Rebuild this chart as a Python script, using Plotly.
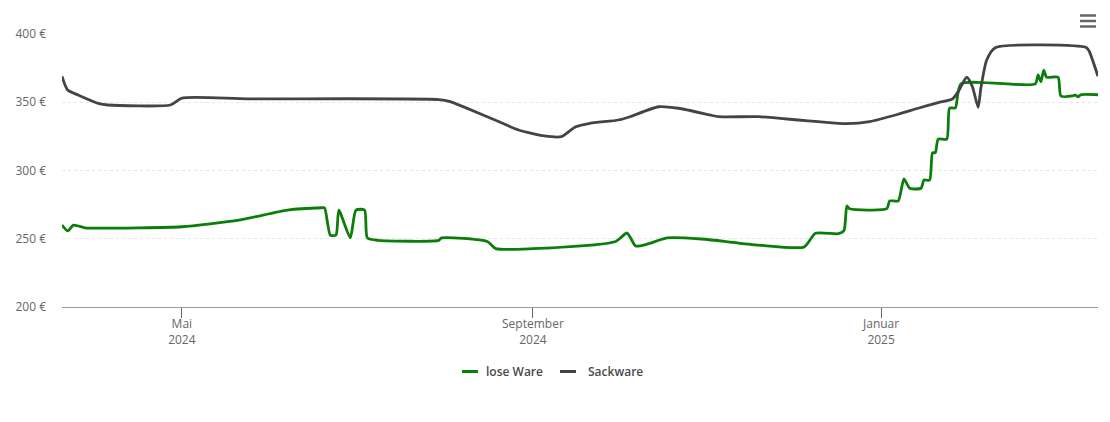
import plotly.graph_objects as go

# ---- data ----
lose_dates = [
    "2024-03-20", "2024-03-22", "2024-03-24", "2024-03-27", "2024-03-28", "2024-04-16",
    "2024-05-01", "2024-05-21", "2024-06-07", "2024-06-19", "2024-06-20", "2024-06-22",
    "2024-06-24", "2024-06-25", "2024-06-29", "2024-07-01", "2024-07-04", "2024-07-05",
    "2024-07-09", "2024-07-30", "2024-07-31", "2024-08-16", "2024-08-19", "2024-09-06",
    "2024-09-30", "2024-10-04", "2024-10-07", "2024-10-11", "2024-10-18", "2024-10-30",
    "2024-11-19", "2024-12-05", "2024-12-09", "2024-12-17", "2024-12-19", "2024-12-20",
    "2024-12-21", "2025-01-03", "2025-01-04", "2025-01-07", "2025-01-09", "2025-01-11",
    "2025-01-15", "2025-01-16", "2025-01-18", "2025-01-19", "2025-01-20", "2025-01-21",
    "2025-01-24", "2025-01-25", "2025-01-27", "2025-01-29", "2025-02-24", "2025-02-25",
    "2025-02-26", "2025-02-27", "2025-02-28", "2025-03-04", "2025-03-05", "2025-03-09",
    "2025-03-10", "2025-03-11", "2025-03-12", "2025-03-18",
]
lose_values = [
    260, 255.7, 260, 258.6, 258, 258,
    258.8, 263.7, 271, 272.7, 272.7, 252.7,
    252.7, 271, 250.6, 271, 271, 250.6,
    248.8, 248.8, 250.6, 248, 242.8, 243.2,
    248, 254.2, 244.7, 246, 250.6, 249.8,
    245.4, 244, 254, 253.7, 256, 274,
    272, 272, 277.7, 277.7, 293.8, 287,
    287, 293, 293, 313, 313, 323,
    323, 345.8, 345.8, 363.4, 363.4, 370,
    365, 373.6, 368.3, 368.3, 354.6, 354.6,
    355.3, 354, 355.5, 355.5,
]

sack_dates = [
    "2024-03-20", "2024-03-22", "2024-03-26", "2024-04-02", "2024-04-05", "2024-04-27",
    "2024-05-01", "2024-05-24", "2024-07-30", "2024-08-03", "2024-08-17", "2024-08-27",
    "2024-09-05", "2024-09-11", "2024-09-13", "2024-09-16", "2024-09-21", "2024-10-01",
    "2024-10-05", "2024-10-15", "2024-10-22", "2024-11-02", "2024-11-05", "2024-11-19",
    "2024-12-03", "2024-12-10", "2024-12-20", "2024-12-28", "2025-01-07", "2025-01-14",
    "2025-01-21", "2025-01-26", "2025-01-28", "2025-01-31", "2025-02-02", "2025-02-04",
    "2025-02-05", "2025-02-07", "2025-02-10", "2025-03-14", "2025-03-15", "2025-03-18",
]
sack_values = [
    369, 359, 355, 349, 348, 348,
    353, 352.5, 352, 350.5, 338.5, 329.7,
    325.3, 324.8, 327.5, 332, 334.6, 337,
    339.4, 346.7, 345.6, 340.7, 339.4, 339.4,
    337, 335.8, 334.3, 335.8, 341.2, 345.6,
    349.7, 352.4, 357.7, 368.3, 361.4, 346.3,
    361, 381, 390, 390, 387, 369,
]

tick_dates = ["2024-05-01", "2024-09-01", "2025-01-01"]
tick_labels = ["Mai<br>2024", "September<br>2024", "Januar<br>2025"]
y_ticks = [200, 250, 300, 350, 400]
y_labels = ["200 €", "250 €", "300 €", "350 €", "400 €"]

series_names = ["lose Ware", "Sackware"]
series_colors = ["#0b7d0b", "#444444"]

# ---- figure ----
fig = go.Figure()
fig.add_trace(go.Scatter(
    x=lose_dates, y=lose_values, name=series_names[0], mode="lines",
    line=dict(color=series_colors[0], width=2.8, shape="spline", smoothing=0.6),
    showlegend=False,
))
fig.add_trace(go.Scatter(
    x=sack_dates, y=sack_values, name=series_names[1], mode="lines",
    line=dict(color=series_colors[1], width=2.8, shape="spline", smoothing=0.6),
    showlegend=False,
))

L, R, T, B = 62, 12, 34, 115
W, H = 1110, 422
pw, ph = W - L - R, H - T - B

def px_x(px):
    return (px - L) / pw

def px_y(py):
    return (H - B - py) / ph

shapes = []
# menu icon
for py in (15.5, 21, 26.5):
    shapes.append(dict(type="line", xref="paper", yref="paper",
                       x0=px_x(1080), x1=px_x(1096), y0=px_y(py), y1=px_y(py),
                       line=dict(color="#666666", width=2.5)))

# custom legend (symbol lines + text)
annotations = []
legend_sym_x = [(462, 478), (560, 576)]
legend_txt_x = [484, 586]
for i in range(2):
    shapes.append(dict(type="line", xref="paper", yref="paper",
                       x0=px_x(legend_sym_x[i][0]), x1=px_x(legend_sym_x[i][1]),
                       y0=px_y(371.5), y1=px_y(371.5),
                       line=dict(color=series_colors[i], width=3)))
    annotations.append(dict(xref="paper", yref="paper", x=px_x(legend_txt_x[i]),
                            y=px_y(371.5), xanchor="left", yanchor="middle",
                            text=series_names[i], showarrow=False,
                            font=dict(size=12, color="#4a4a4a", weight=600)))

fig.update_layout(
    width=W, height=H,
    margin=dict(l=L, r=R, t=T, b=B),
    paper_bgcolor="white", plot_bgcolor="white",
    font=dict(family="Open Sans, Noto Sans, sans-serif", size=12, color="#666666"),
    showlegend=False,
    shapes=shapes,
    annotations=annotations,
    xaxis=dict(
        type="date", range=["2024-03-20", "2025-03-18"],
        tickvals=tick_dates, ticktext=tick_labels,
        ticks="outside", ticklen=10, tickcolor="#666666", tickwidth=1,
        showgrid=False, showline=True, linecolor="#999999", linewidth=1,
        zeroline=False, tickfont=dict(size=12, color="#666666"),
        ticklabelstandoff=-4, fixedrange=True,
    ),
    yaxis=dict(
        range=[200, 400], tickvals=y_ticks, ticktext=y_labels,
        showgrid=True, gridcolor="#e6e6e6", griddash="dot", gridwidth=1,
        zeroline=False, showline=False, ticks="",
        tickfont=dict(size=12, color="#666666"),
        ticklabelstandoff=15, fixedrange=True,
    ),
)

fig.write_html("out.html", config={"displayModeBar": False},
               post_script="document.body.style.margin='0';document.body.style.overflow='hidden';")
